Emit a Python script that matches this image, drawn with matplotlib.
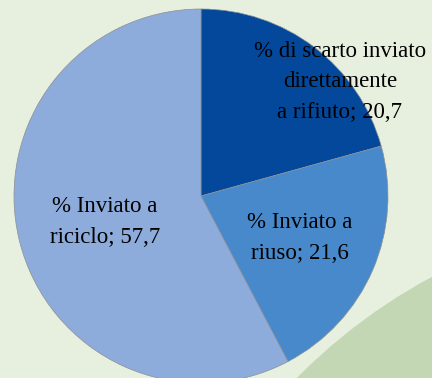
import matplotlib.pyplot as plt
from matplotlib.patches import Ellipse

# quote di destinazione dello scarto
labels = ["% di scarto inviato\ndirettamente\na rifiuto; 20,7",
          "% Inviato a\nriuso; 21,6",
          "% Inviato a\nriciclo; 57,7"]
values = [20.7, 21.6, 57.7]
colors = ["#03489b", "#4889cb", "#8dacdb"]

W, H = 432, 378
fig = plt.figure(figsize=(W / 100, H / 100), dpi=100)
fig.patch.set_facecolor("#e7efdf")

# forma verde decorativa in basso a destra
blob = Ellipse((698 / W, 1 - 773 / H), 2 * 563 / W, 2 * 563 / H,
               transform=fig.transFigure, facecolor="#c4d7b5",
               edgecolor="none", zorder=0)
fig.patches.append(blob)

# pie: centro (201,196) px, raggio 187 px, tagliato in alto a y=11
r = 187.0
ax = fig.add_axes([0, 0, 1, (H - 11) / H])
ax.set_facecolor("none")
wedges, _ = ax.pie(values, colors=colors, startangle=90, counterclock=False,
                   radius=1.0, wedgeprops=dict(edgecolor="#8a8f96", linewidth=0.5))
ax.set_aspect("auto")
ax.set_xlim(-201 / r, (W - 201) / r)
ax.set_ylim(-(H - 196) / r, (196 - 11) / r)
ax.axis("off")

font = dict(family="Liberation Serif", fontsize=16.5, color="black",
            ha="center", va="center", multialignment="center", linespacing=1.58)
pos = [((340 - 201) / r, (196 - 82) / r),
       ((300 - 201) / r, (196 - 238) / r),
       ((105 - 201) / r, (196 - 222) / r)]
for lab, (x, y) in zip(labels, pos):
    ax.text(x, y, lab, **font)

fig.savefig("out.png", dpi=100, facecolor=fig.get_facecolor())
